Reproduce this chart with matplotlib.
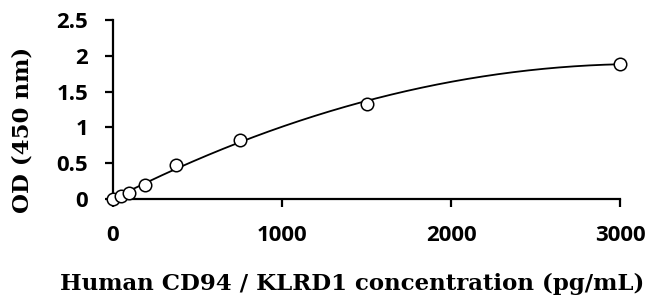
import numpy as np
import matplotlib
matplotlib.use("Agg")
import matplotlib.pyplot as plt

conc = [0, 46.875, 93.75, 187.5, 375, 750, 1500, 3000]
od = [0.0, 0.045, 0.09, 0.2, 0.47, 0.83, 1.33, 1.89]
xticks = [0, 1000, 2000, 3000]
yticks = [0, 0.5, 1, 1.5, 2, 2.5]
yticklabels = ["0", "0.5", "1", "1.5", "2", "2.5"]

# trendline like excel (polynomial fit of the standards)
coef = np.polyfit(conc, od, 2)
xs = np.linspace(0, 3000, 300)
ys = np.polyval(coef, xs)

fig = plt.figure(figsize=(6.52, 2.95), dpi=100)
ax = fig.add_axes([0.1733, 0.3254, 0.951 - 0.1733, 0.932 - 0.3254])
ax.plot(xs, ys, color="black", lw=1.3, zorder=2)
ax.plot(conc, od, "o", mfc="white", mec="black", ms=9, mew=1.1, zorder=3, clip_on=False)

ax.set_xlim(0, 3000)
ax.set_ylim(0, 2.5)
ax.set_xticks(xticks)
ax.set_yticks(yticks)
ax.set_yticklabels(yticklabels)
for s in ["top", "right"]:
    ax.spines[s].set_visible(False)
for s in ["left", "bottom"]:
    ax.spines[s].set_linewidth(1.6)
ax.tick_params(direction="out", length=6, width=1.6)
ax.tick_params(axis="x", pad=13)
ax.tick_params(axis="y", pad=12)
for lab in ax.get_xticklabels() + ax.get_yticklabels():
    lab.set_fontfamily("Open Sans")
    lab.set_fontweight("bold")
    lab.set_fontsize(16)

ax.set_xlabel("Human CD94 / KLRD1 concentration (pg/mL)", fontfamily="DejaVu Serif",
              fontweight="bold", fontsize=16.5, va="baseline")
ax.xaxis.set_label_coords(0.471, -0.508)
ax.set_ylabel("OD (450 nm)", fontfamily="DejaVu Serif", fontweight="bold",
              fontsize=16.5, va="center")
ax.yaxis.set_label_coords(-0.1775, 0.385)

fig.savefig("out.png", dpi=100)
